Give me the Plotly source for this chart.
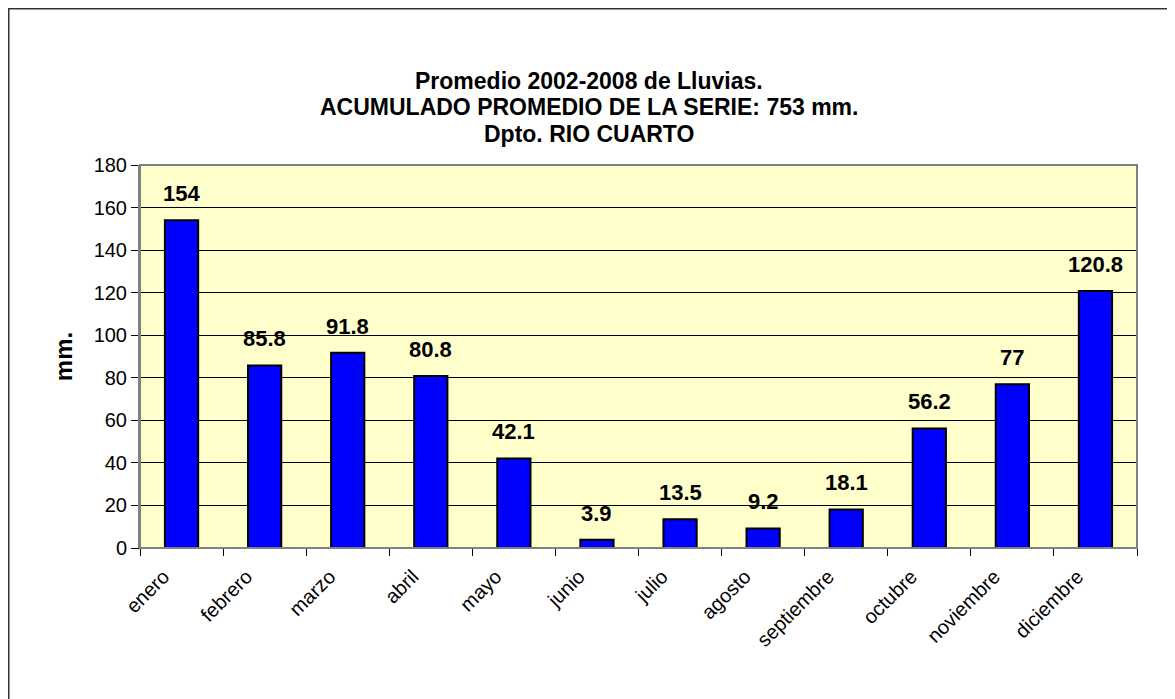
import plotly.graph_objects as go

meses = ['enero', 'febrero', 'marzo', 'abril', 'mayo', 'junio', 'julio',
         'agosto', 'septiembre', 'octubre', 'noviembre', 'diciembre']
lluvia_mm = [154, 85.8, 91.8, 80.8, 42.1, 3.9, 13.5, 9.2, 18.1, 56.2, 77, 120.8]
y_ticks = [0, 20, 40, 60, 80, 100, 120, 140, 160, 180]
titulo = ['Promedio 2002-2008 de Lluvias.',
          'ACUMULADO PROMEDIO DE LA SERIE: 753 mm.',
          'Dpto. RIO CUARTO']

FONT = "Arial, Liberation Sans, sans-serif"

W, H = 1167, 691          # page body has an 8px margin
L, R, T, B = 132, 38, 157, 151
PW, PH = W - L - R, H - T - B

fig = go.Figure()

fig.add_trace(go.Bar(
    x=meses, y=lluvia_mm,
    marker=dict(color='#0000FF', line=dict(color='black', width=2)),
    showlegend=False,
    hoverinfo='x+y',
))

# data labels above each bar
for m, v in zip(meses, lluvia_mm):
    fig.add_annotation(x=m, y=v, text='<b>%g</b>' % v, showarrow=False,
                       yanchor='bottom', yshift=12,
                       font=dict(family=FONT, size=22, color='black'))

# title, one annotation per line (centred on the whole chart)
for i, line in enumerate(titulo):
    y_px = 73 + 26.5 * i
    fig.add_annotation(text='<b>%s</b>' % line, showarrow=False,
                       xref='paper', yref='paper',
                       x=(581 - L) / PW, y=(H - B - y_px) / PH,
                       xanchor='center', yanchor='middle',
                       font=dict(family=FONT, size=23, color='black'))

fig.update_layout(
    width=W, height=H, autosize=False,
    margin=dict(l=L, r=R, t=T, b=B),
    paper_bgcolor='white',
    plot_bgcolor='#FFFFCC',
    bargap=0.6,
    font=dict(family=FONT, color='black'),
)

fig.update_xaxes(
    ticks='outside', tickson='boundaries', ticklen=7, tickcolor='black',
    tickangle=-45, tickfont=dict(family=FONT, size=20),
    ticklabelshift=-18, ticklabelstandoff=8,
    showline=True, linecolor='black', linewidth=1,
    showgrid=False,
)
fig.update_yaxes(
    range=[0, 180], tickvals=y_ticks, ticks='outside', ticklen=7,
    tickcolor='black', tickfont=dict(family=FONT, size=20),
    showgrid=True, gridcolor='black', gridwidth=1,
    showline=True, linecolor='#808080', linewidth=2,
    zeroline=False,
    title=dict(text='<b>mm.</b>', font=dict(family=FONT, size=24), standoff=14),
)

# plot area border (grey) and outer chart border (left/top visible)
fig.add_shape(type='rect', xref='paper', yref='paper', x0=0, y0=0, x1=1, y1=1,
              line=dict(color='#808080', width=2), layer='above')
fig.add_shape(type='rect', xref='paper', yref='paper',
              x0=(0 - L) / PW, y0=-0.6, x1=1.2, y1=(H - B) / PH,
              line=dict(color='#333333', width=3))

fig.write_html("out.html")
